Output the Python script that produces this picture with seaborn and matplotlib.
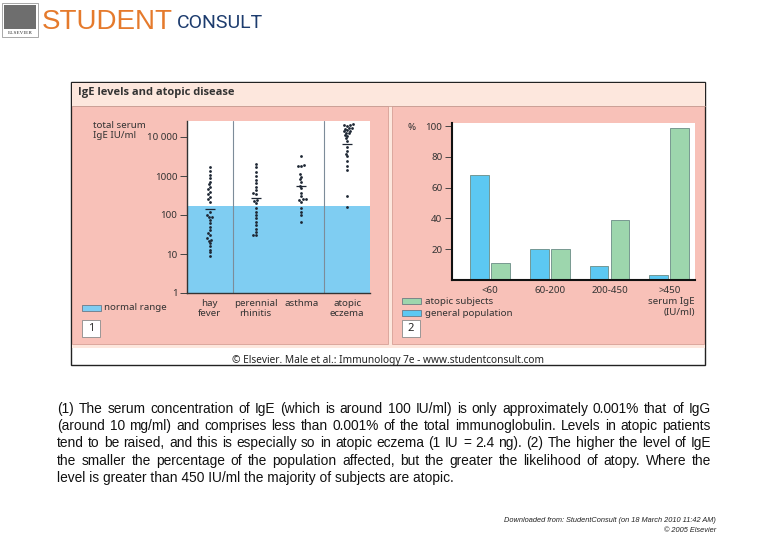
import matplotlib
matplotlib.use("Agg")
import matplotlib.pyplot as plt
from matplotlib.patches import Rectangle
from matplotlib.ticker import NullLocator
import seaborn as sns
import pandas as pd

W, H, DPI = 780, 540, 100

# ---------------- data ----------------
categories = ["hay\nfever", "perennial\nrhinitis", "asthma", "atopic\neczema"]
hay_fever = [1740, 1370, 1060, 870, 715, 620, 530, 455, 400, 340, 295, 250, 220,
             121, 100, 90, 88, 75, 61, 50, 41, 35, 31, 25, 23, 22, 19, 16, 13, 11, 9]
perennial_rhinitis = [2040, 1660, 1230, 1000, 790, 650, 530, 440, 360, 345, 240, 235,
                      208, 148, 121, 100, 82, 67, 55, 45, 37, 31, 30]
asthma = [3250, 1950, 1850, 1800, 1100, 970, 820, 715, 550, 480, 370, 305, 260, 250,
          240, 220, 150, 121, 100, 68]
atopic_eczema = [21000, 20000, 19500, 20500, 17000, 16500, 17500, 14500, 14000, 15000,
                 12700, 12500, 11000, 10800, 9400, 8100, 5400, 4300, 3700, 3200, 2450,
                 1770, 1450, 300, 158]
geo_means = [140, 270, 550, 6600]
normal_range = [1, 170]
ige_ticks = [1, 10, 100, 1000, 10000]
ige_tick_labels = ["1", "10", "100", "1000", "10 000"]

ige_levels = ["<60", "60-200", "200-450", ">450"]
general_population = [68, 20, 9, 3]
atopic_subjects = [11, 20, 39, 99]
pct_ticks = [20, 40, 60, 80, 100]

caption_lines = [
    "(1) The serum concentration of IgE (which is around 100 IU/ml) is only approximately 0.001% that of IgG",
    "(around 10 mg/ml) and comprises less than 0.001% of the total immunoglobulin. Levels in atopic patients",
    "tend to be raised, and this is especially so in atopic eczema (1 IU = 2.4 ng). (2) The higher the level of IgE",
    "the smaller the percentage of the population affected, but the greater the likelihood of atopy. Where the",
    "level is greater than 450 IU/ml the majority of subjects are atopic.",
]

# ---------------- colours ----------------
PINK = "#f8c1b8"
PEACH = "#fde7dd"
RANGE_BLUE = "#7fcdf2"
BAR_BLUE = "#5cc8f2"
BAR_GREEN = "#9dd6ad"
DOT = "#1d2633"
TXT = "#333333"

sns.set_theme(style="white")
plt.rcParams["font.family"] = ["Noto Sans", "DejaVu Sans"]

fig = plt.figure(figsize=(W / DPI, H / DPI), dpi=DPI)
fig.patch.set_facecolor("white")

bg = fig.add_axes([0, 0, 1, 1], zorder=0)
bg.set_xlim(0, W)
bg.set_ylim(H, 0)
bg.axis("off")


def rect(x0, y0, x1, y1, **kw):
    bg.add_patch(Rectangle((x0, y0), x1 - x0, y1 - y0, **kw))


def axes_px(x0, y0, x1, y1):
    return fig.add_axes([x0 / W, 1 - y1 / H, (x1 - x0) / W, (y1 - y0) / H], zorder=2)


# ---------------- logo ----------------
rect(2, 3, 38, 37, fc="white", ec="#9a9a9a", lw=0.6)
rect(4, 5, 36, 29, fc="#6e6e6e", ec="none")
bg.text(20, 33.5, "ELSEVIER", fontsize=3.8, family="Liberation Serif", ha="center", va="center", color="#333")
bg.text(42, 29, "STUDENT", fontsize=20, family="Liberation Sans", color="#e57a2c", ha="left", va="baseline")
bg.text(177, 28, "CONSULT", fontsize=14, family="Roboto", color="#1d3c6e", ha="left", va="baseline")

# ---------------- figure frame ----------------
rect(71, 82, 705, 365, fc="white", ec="#222222", lw=1.0)
rect(71.5, 82.5, 704.5, 348, fc=PEACH, ec="none")
bg.plot([71.5, 704.5], [105.5, 105.5], color="#c9a096", lw=0.6)
rect(72, 106, 388, 344, fc=PINK, ec="#d7a096", lw=0.6)
rect(392, 106, 704, 344, fc=PINK, ec="#d7a096", lw=0.6)
bg.text(78, 93, "IgE levels and atopic disease", fontsize=8, fontweight="bold",
        family="Open Sans", color=TXT, va="center")
bg.text(388, 360, "\u00a9 Elsevier. Male et al.: Immunology 7e - www.studentconsult.com",
        fontsize=7.3, color="#222", ha="center", va="center")

# ---------------- panel 1 ----------------
ax1 = axes_px(187, 121, 370, 293)
ax1.set_facecolor("white")
ax1.set_yscale("log")
ymax1 = 10 ** ((293 - 121) / 39)
ax1.set_ylim(1, ymax1)
ax1.set_xlim(-0.5, 3.5)
ax1.axhspan(normal_range[0], normal_range[1], color=RANGE_BLUE, lw=0, zorder=0)
ax1.axvline(0.5, color="#7d8c99", lw=0.8, zorder=1)
ax1.axvline(2.5, color="#7d8c99", lw=0.8, zorder=1)

values = [hay_fever, perennial_rhinitis, asthma, atopic_eczema]
df1 = pd.DataFrame({
    "disease": [c for c, v in zip(categories, values) for _ in v],
    "ige": [x for v in values for x in v],
})
sns.swarmplot(data=df1, x="disease", y="ige", order=categories, color=DOT,
              size=2.0, ax=ax1, zorder=3, warn_thresh=1)
ax1.scatter(range(len(categories)), geo_means, marker="_", s=45, color=DOT, linewidths=0.9, zorder=4)
ax1.set_xlim(-0.5, 3.5)
ax1.set_ylim(1, ymax1)
ax1.set_yticks(ige_ticks)
ax1.set_yticklabels(ige_tick_labels)
ax1.yaxis.set_minor_locator(NullLocator())
ax1.tick_params(axis="y", left=True, length=5, width=0.7, color="#444", labelsize=7,
                labelcolor=TXT, pad=2)
ax1.tick_params(axis="x", length=0, labelsize=7, labelcolor=TXT, pad=4)
ax1.set_xlabel("")
ax1.set_ylabel("")
for s in ["top", "right"]:
    ax1.spines[s].set_visible(False)
for s in ["left", "bottom"]:
    ax1.spines[s].set_color("#333")
    ax1.spines[s].set_linewidth(1.0)

bg.text(93, 125, "total serum", fontsize=7, color=TXT, va="center", ha="left")
bg.text(93, 136, "IgE IU/ml", fontsize=7, color=TXT, va="center", ha="left")

rect(82, 305, 101, 311, fc=RANGE_BLUE, ec="#5a6b78", lw=0.5)
bg.text(104, 308, "normal range", fontsize=7, color=TXT, va="center")
rect(82, 320, 100, 337, fc="white", ec="#8a8a8a", lw=0.6)
bg.text(91, 328.5, "1", fontsize=8, fontweight="bold", color="#222", ha="center", va="center")

# ---------------- panel 2 ----------------
ax2 = axes_px(452, 123, 695, 280)
ax2.set_facecolor("white")
df2 = pd.DataFrame({
    "level": ige_levels * 2,
    "group": ["general population"] * 4 + ["atopic subjects"] * 4,
    "pct": general_population + atopic_subjects,
})
sns.barplot(data=df2, x="level", y="pct", hue="group", order=ige_levels,
            hue_order=["general population", "atopic subjects"],
            palette=[BAR_BLUE, BAR_GREEN], saturation=1, width=0.7, gap=0.1,
            edgecolor="#6a8c86", linewidth=0.6, ax=ax2, legend=False)
ax2.set_xlim(-0.636, 3.43)
ax2.set_ylim(0, 102)
ax2.set_yticks(pct_ticks)
ax2.tick_params(axis="y", left=True, length=5, width=0.7, color="#444", labelsize=7,
                labelcolor=TXT, pad=2)
ax2.tick_params(axis="x", length=0, labelsize=7, labelcolor=TXT, pad=4)
ax2.set_xlabel("")
ax2.set_ylabel("")
for s in ["top", "right"]:
    ax2.spines[s].set_visible(False)
for s in ["left", "bottom"]:
    ax2.spines[s].set_color("#111")
    ax2.spines[s].set_linewidth(1.5)

bg.text(407, 127, "%", fontsize=7, color=TXT, va="center")
bg.text(695, 302, "serum IgE", fontsize=7, color=TXT, ha="right", va="center")
bg.text(695, 313, "(IU/ml)", fontsize=7, color=TXT, ha="right", va="center")

rect(402, 298, 421, 304, fc=BAR_GREEN, ec="#5a6b78", lw=0.5)
bg.text(425, 301, "atopic subjects", fontsize=7, color=TXT, va="center")
rect(402, 310, 421, 316, fc=BAR_BLUE, ec="#5a6b78", lw=0.5)
bg.text(425, 313, "general population", fontsize=7, color=TXT, va="center")
rect(402, 320, 420, 337, fc="white", ec="#8a8a8a", lw=0.6)
bg.text(411, 328.5, "2", fontsize=8, fontweight="bold", color="#222", ha="center", va="center")

# ---------------- caption (justified) ----------------
renderer = fig.canvas.get_renderer()
CAP_FONT = dict(fontsize=9.9, family="Liberation Sans", color="#111")
left, right = 57, 711
baselines = [413, 430, 447, 465, 482]
for i, (line, yb) in enumerate(zip(caption_lines, baselines)):
    if i == len(caption_lines) - 1:
        bg.text(left, yb, line, ha="left", va="baseline", **CAP_FONT)
        continue
    words = line.split(" ")
    texts = [bg.text(0, yb, w, ha="left", va="baseline", **CAP_FONT) for w in words]
    widths = [t.get_window_extent(renderer).width for t in texts]
    gap = (right - left - sum(widths)) / (len(words) - 1)
    x = left
    for t, w in zip(texts, widths):
        t.set_x(x)
        x += w + gap

# ---------------- footer ----------------
bg.text(716, 521, "Downloaded from: StudentConsult (on 18 March 2010 11:42 AM)", fontsize=5.3,
        family="Liberation Sans", style="italic", color="#222", ha="right", va="center")
bg.text(716, 531, "\u00a9 2005 Elsevier", fontsize=5.3, family="Liberation Sans", style="italic",
        color="#222", ha="right", va="center")

fig.savefig("out.png", dpi=DPI, facecolor="white")
